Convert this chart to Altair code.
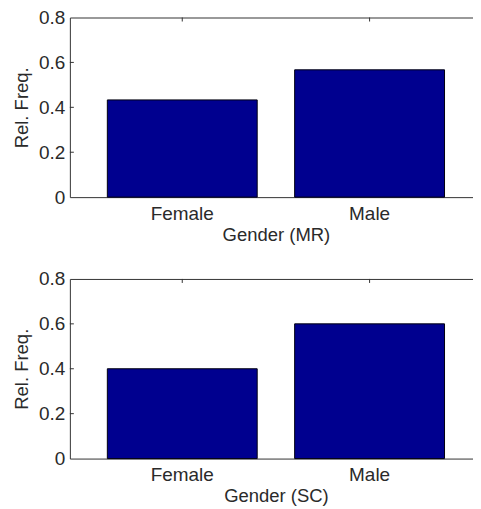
import altair as alt
import pandas as pd

categories = ["Female", "Male"]
mr_values = [0.433, 0.567]
sc_values = [0.40, 0.60]
y_tick_values = [0, 0.2, 0.4, 0.6, 0.8]
inner_ticks = [0.2, 0.4, 0.6]
x_titles = ["Gender (MR)", "Gender (SC)"]
y_title = "Rel. Freq."

W = 413
H = 180
BAR = "#00008F"
FONT = "Liberation Sans"
LFS = 19
TFS = 18.5


def panel(values, xtitle):
    df = pd.DataFrame({"cat": categories, "value": values})
    tk = pd.DataFrame({"t": inner_ticks})
    xscale = alt.Scale(paddingInner=0.2, paddingOuter=0.2)
    bars = alt.Chart(df).mark_bar(color=BAR, stroke="#000010", strokeWidth=1).encode(
        x=alt.X("cat:N", sort=categories, scale=xscale,
                axis=alt.Axis(title=xtitle, labelAngle=0, ticks=False, tickSize=0,
                              domain=False, labelPadding=7, titlePadding=2)),
        y=alt.Y("value:Q", scale=alt.Scale(domain=[0, 0.8], nice=False),
                axis=alt.Axis(title=y_title, values=y_tick_values, format="~g",
                              ticks=False, tickSize=0, domain=False,
                              labelPadding=5, titlePadding=7, grid=False)),
    )
    top_ticks = alt.Chart(df).mark_rule(color="#333333", strokeWidth=1).encode(
        x=alt.X("cat:N", sort=categories, scale=xscale),
        y=alt.value(0), y2=alt.value(4),
    )
    left_ticks = alt.Chart(tk).mark_rule(color="#333333", strokeWidth=1).encode(
        y=alt.Y("t:Q", scale=alt.Scale(domain=[0, 0.8], nice=False)),
        x=alt.value(0), x2=alt.value(4),
    )
    right_ticks = alt.Chart(tk).mark_rule(color="#333333", strokeWidth=1).encode(
        y=alt.Y("t:Q", scale=alt.Scale(domain=[0, 0.8], nice=False)),
        x=alt.value(W - 4), x2=alt.value(W),
    )
    return alt.layer(left_ticks, right_ticks, bars, top_ticks).properties(width=W, height=H)


chart = alt.vconcat(
    panel(mr_values, x_titles[0]),
    panel(sc_values, x_titles[1]),
    spacing=25,
).properties(
    padding={"left": 4, "top": -1, "right": -10, "bottom": 0},
    background="white",
).configure_view(
    stroke="#333333", strokeWidth=1
).configure_axis(
    labelFont=FONT, titleFont=FONT, labelFontSize=LFS, titleFontSize=TFS,
    labelColor="#2a2a2a", titleColor="#2a2a2a", titleFontWeight="normal",
)

chart.save("out.html", embed_options={"renderer": "svg", "actions": False})
